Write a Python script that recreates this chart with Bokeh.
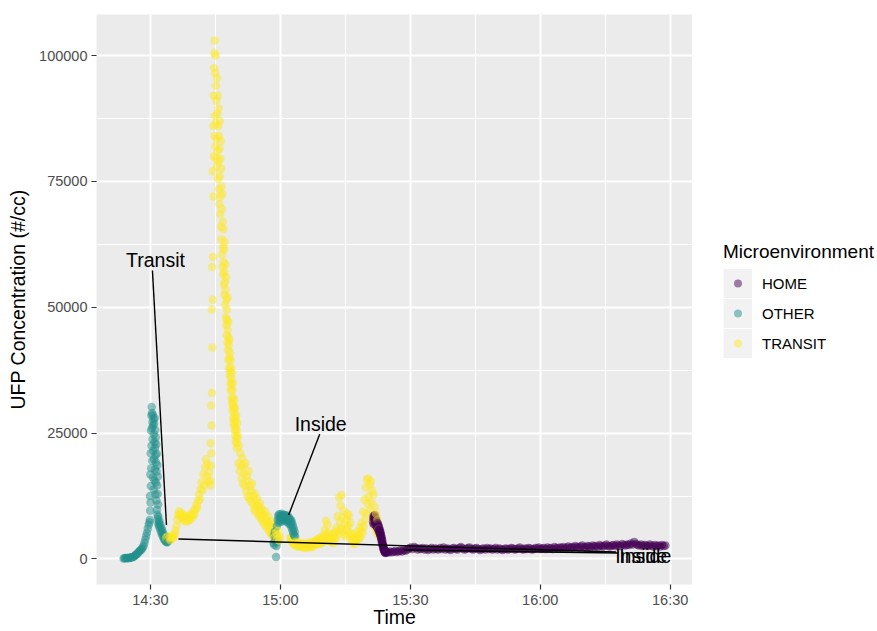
import numpy as np
import pandas as pd
from bokeh.plotting import figure
from bokeh.layouts import row
from bokeh.models import (ColumnDataSource, FixedTicker, Legend, LegendItem,
                          Range1d, CategoricalColorMapper)
from bokeh.core.properties import value
from bokeh.embed import file_html
from bokeh.resources import INLINE

FONT = "Liberation Sans"

# ---------------- data ----------------
CATEGORIES = ["HOME", "OTHER", "TRANSIT"]
COLORS = ["#440154", "#21908C", "#FDE725"]

# Time is in minutes after 14:00; each run is an instrument log with a fixed sampling step.
other_run1_start, other_run1_step = 23.8, 0.2
other_run1 = [80, 150, 200, 130, 180, 220, 160, 250, 300, 280, 350, 420, 500, 650, 800, 950,
              1100, 1300, 1500, 1700, 1800, 2000, 2300, 2600, 3200, 3800, 4500, 5200, 6000,
              6800, 7300]

other_run2_start, other_run2_step = 29.86, 0.04
other_run2 = [7800, 12500, 9600, 16800, 11200, 21000, 14500, 25500, 18000, 28500, 22500,
              30200, 26000, 29000, 19500, 27200, 23800, 28600, 16200, 26500, 21500, 27800,
              13800, 24800, 19800, 26900, 15600, 23200, 28000, 17800, 22100, 25600, 12800,
              20600, 24200, 15200, 19200, 22800, 11600, 17400, 20900, 9800, 14600, 18600,
              8800, 12900, 16400, 7900, 10800, 8400, 6900]

other_run3_start, other_run3_step = 31.9, 0.1
other_run3 = [7200, 6500, 7500, 6000, 6800, 5500, 6200, 5000, 5800, 4600, 5200, 4200, 4800,
              3800, 4400, 3600, 4000, 3400, 3800, 3500, 3300, 3900, 3600, 4200, 3800]

transit_run1_start, transit_run1_step = 33.6, 0.2
transit_run1 = [4200, 3800, 4500, 4000, 4300, 3700, 4400, 4100, 4600, 4300, 4900, 5600, 6500,
                7800, 8800, 9500, 8600, 9200, 8100, 8900, 7600, 8400, 7900, 8600, 7400, 8200,
                7700, 8500, 7800, 9000, 8200, 8800, 9600, 8900, 9900, 10800, 10200, 11500,
                12800, 11800, 13900, 15200, 13600, 16800, 14800, 18200, 19800, 16500, 18800,
                15400, 17200, 14600]

transit_run2_start, transit_run2_step = 43.85, 0.05
transit_run2 = [15500, 23000, 18500, 30500, 21000, 26500, 49500, 33000, 58000, 42000,
                51500, 77000, 60000, 86000, 72000, 92000, 80000, 97500, 84000, 100500,
                103000, 88000, 96500, 82000, 100000, 86500, 94000, 79500, 91000, 83500,
                95500, 78000, 88500, 81000, 92000, 75500, 86000, 79000, 89500, 73500,
                84000, 70500, 81500, 76000, 87000, 68500, 79500, 72000, 83000, 66000,
                77500, 63500, 74000, 69500, 60500, 72500, 58000, 67000, 62000, 56500,
                65500, 59000, 54500, 61500, 57000, 52500, 63000, 55000, 50500, 58500,
                53500, 48000, 56000, 46500, 51500, 44500, 49500, 47500, 43000, 52000,
                45500, 41500, 47000, 39500, 44000, 42500, 38000, 43500, 40000, 36500,
                41000, 37500, 35000, 39500, 33500, 38000, 36000, 32000, 34500, 37000,
                31000, 33500, 29500, 35000, 30500, 28000, 32000, 27000, 30000, 31500,
                26500, 29000, 25500, 28000, 30000, 24500, 27500, 23500, 26000, 28500,
                23000, 25500, 22000, 27000, 24000]

transit_run3_start, transit_run3_step = 50.15, 0.15
transit_run3 = [24500, 19000, 22500, 17500, 21000, 18500, 16000, 20000, 15000, 18500,
                17000, 14500, 19000, 13500, 16500, 12500, 15500, 17500, 12000, 14500,
                11500, 13500, 15000, 11000, 12500, 10000, 13000, 9500, 11500, 10500,
                12000, 9000, 10500, 8500, 11000, 9500, 8000, 10000, 7500, 9000,
                8500, 7000, 9500, 6500, 8000, 7500, 6000, 8500, 5500, 7000,
                6500, 5000, 7500, 4800, 6000, 5500, 4400, 6800, 4200, 5200,
                4600, 3800, 5600, 4000, 3600, 4400]

other_run4_start, other_run4_step = 58.4, 0.1
other_run4 = [3200, 4600, 2800, 5400, 3600, 4200, 400, 2600, 6500, 3400,
              7800, 8600, 7200, 8900, 8100, 7600, 8800, 8300, 7400, 9000,
              8500, 7900, 8700, 8200, 7700, 8800, 8400, 7500, 8600, 8000,
              8700, 7800, 8300, 7300, 8500, 7600, 8100, 6900, 7900, 7400,
              6800, 7700, 6200, 7200, 5600, 6600, 5000, 6000, 4600, 5400, 4500]

transit_run4_start, transit_run4_step = 62.3, 0.15
transit_run4 = [4200, 3600, 4400, 3300, 3900, 3000, 3500, 2800, 3400, 2600,
                3200, 2900, 2500, 3100, 2700, 3300, 2400, 3000, 2600, 2900,
                2300, 2800, 2500, 3100, 2200, 2700, 2900, 2400, 3200, 2600,
                2900, 2300, 3400, 2700, 3000, 2500, 3300, 2800, 3600, 3100,
                3500, 2900, 3800, 3200, 4100, 3400, 3000, 3700, 4400, 3300,
                3900, 3500, 4600, 5800, 4200, 7600, 5000, 6800, 4300, 3600,
                5200, 3900, 3400, 4600, 3700, 4100, 3200, 4800, 3600, 5400,
                4200, 6200, 4800, 8500, 5600, 12200, 7400, 10600, 6000, 12700,
                8200, 5400, 9600, 4800, 6800, 4400, 5900, 7800, 9000, 6500,
                8600, 5200, 7200, 4600, 3800, 5000, 3400, 4300, 3000, 3900,
                3200, 4500, 3600, 5400, 3900, 4800, 4100, 6200, 4400, 5600,
                7200, 5200, 9400, 6400, 11800, 7800, 14200, 9000, 15800, 11000,
                16000, 12500, 14800, 9800, 15400, 11200, 13600, 8400, 12800, 7200,
                10400, 6200, 9000, 5400, 7800, 4800, 6000]

home_run1_start, home_run1_step = 81.4, 0.05
home_run1 = [7400, 8200, 7000, 8600, 7800, 6900, 8300, 7500, 8700, 7100,
             7900, 6800, 8100, 7300, 6600, 7700, 7000, 6400, 7400, 6700,
             6200, 7100, 6500, 5900, 6800, 6100, 5600, 6400, 5800, 5300,
             6000, 5100, 5600, 4800, 5300, 4500, 4900, 4100, 4500, 3700,
             4100, 3300, 3700, 2900, 3200, 2600, 2800, 2200, 2400, 1900,
             2100, 1700, 1800, 1500, 1600, 1300, 1500, 1200, 1400, 1300, 1500]

home_run2_start, home_run2_step = 84.5, 0.4
home_run2 = [1400, 1300, 1500, 1350, 1450, 1600, 1400, 1550, 1700, 1500,
             1800, 1650, 1900, 2100, 2300, 2000, 2400, 2200, 1900, 2100,
             2000, 2200, 1900, 2100, 1800, 2000, 2200, 1900, 2100, 2000,
             1900, 2200, 2000, 2300, 1900, 2100, 2000, 1800, 2100, 2200,
             2000, 1900, 2200, 2400, 2100, 1900, 2000, 2200, 2300, 2000,
             1900, 2100, 2200, 2000, 1800, 2000, 2100, 1900, 2200, 2000,
             2100, 1900, 2000, 2200, 1900, 2100, 2000, 1800, 2000, 2100,
             1900, 2000, 2200, 2100, 1900, 2000, 2100, 2300, 2000, 1900,
             2100, 2000, 2200, 2100, 1900, 2000, 2200, 2100, 2300, 2000,
             2100, 2200, 2000, 2300, 2100, 2200, 2000, 2400, 2200, 2100,
             2300, 2200, 2400, 2100, 2300, 2500, 2200, 2400, 2300, 2600,
             2400, 2300, 2500, 2700, 2400, 2300, 2600, 2500, 2400, 2700,
             2500, 2600, 2400, 2800, 2600, 2500, 2700, 2900, 2600, 2500,
             2700, 2800, 2600, 2900, 2700, 2600, 3000, 2800, 2700, 2900,
             2800, 3100, 2900, 3400, 3000, 2800, 2700, 2900, 2600, 2800,
             2700, 2600, 2900, 2700, 2500, 2800, 2600, 2700, 2500, 2800, 2600, 2700]

runs = [
    ("OTHER", other_run1_start, other_run1_step, other_run1),
    ("OTHER", other_run2_start, other_run2_step, other_run2),
    ("OTHER", other_run3_start, other_run3_step, other_run3),
    ("TRANSIT", transit_run1_start, transit_run1_step, transit_run1),
    ("TRANSIT", transit_run2_start, transit_run2_step, transit_run2),
    ("TRANSIT", transit_run3_start, transit_run3_step, transit_run3),
    ("OTHER", other_run4_start, other_run4_step, other_run4),
    ("TRANSIT", transit_run4_start, transit_run4_step, transit_run4),
    ("HOME", home_run1_start, home_run1_step, home_run1),
    ("HOME", home_run2_start, home_run2_step, home_run2),
]

# axis ticks
TIME_TICKS = [30, 60, 90, 120, 150]
TIME_TICK_LABELS = ["14:30", "15:00", "15:30", "16:00", "16:30"]
TIME_MINOR = [15, 45, 75, 105, 135]
UFP_TICKS = [0, 25000, 50000, 75000, 100000]
UFP_TICK_LABELS = ["0", "25000", "50000", "75000", "100000"]
UFP_MINOR = [12500, 37500, 62500, 87500]

# repelled text labels: text, label position, segment from label to the data point
LABEL_TEXT = ["Transit", "Inside", "Inside", "Inside"]
LABEL_X = [31.16, 69.31, 143.3, 144.25]
LABEL_Y = [59300, 26800, 600, 600]
SEG_X0 = [30.46, 69.08, 137.5, 138.0]
SEG_Y0 = [57300, 24800, 1390, 1190]
SEG_X1 = [33.70, 61.91, 36.47, 88.50]
SEG_Y1 = [6750, 8730, 3970, 1790]

# ---------------- build ----------------
frames = []
for cat, start, step, vals in runs:
    t = start + step * np.arange(len(vals))
    frames.append(pd.DataFrame({"t": t, "ufp": vals, "env": cat}))
df = pd.concat(frames, ignore_index=True).sort_values("t", kind="stable")
src = ColumnDataSource(df)

tmin, tmax = df["t"].min(), df["t"].max()
vmin, vmax = df["ufp"].min(), df["ufp"].max()
tpad = 0.05 * (tmax - tmin)
vpad = 0.05 * (vmax - vmin)

p = figure(width=692, height=631, output_backend="svg", toolbar_location=None,
           x_range=Range1d(tmin - tpad, tmax + tpad),
           y_range=Range1d(vmin - vpad, vmax + vpad),
           min_border_left=96, min_border_right=0, min_border_top=14,
           min_border_bottom=47)
p.background_fill_color = "#EBEBEB"
p.border_fill_color = "white"
p.outline_line_color = None

cmap = CategoricalColorMapper(factors=CATEGORIES, palette=COLORS)
p.scatter(x="t", y="ufp", source=src, size=8.5,
          fill_color={"field": "env", "transform": cmap}, fill_alpha=0.5,
          line_color=None)

# label segments and texts
p.segment(x0=SEG_X0, y0=SEG_Y0, x1=SEG_X1, y1=SEG_Y1, line_color="black", line_width=1.4)
p.text(x=LABEL_X, y=LABEL_Y, text=LABEL_TEXT, text_font=value(FONT),
       text_font_size="19.5px", text_align="center", text_baseline="middle",
       text_color="black")

# axes
for ax, ticks, minor, labels in ((p.xaxis[0], TIME_TICKS, TIME_MINOR, TIME_TICK_LABELS),
                                 (p.yaxis[0], UFP_TICKS, UFP_MINOR, UFP_TICK_LABELS)):
    ax.ticker = FixedTicker(ticks=ticks, minor_ticks=minor)
    ax.major_label_overrides = dict(zip(ticks, labels))
    ax.axis_line_color = None
    ax.major_tick_line_color = "#333333"
    ax.major_tick_line_width = 1.2
    ax.major_tick_out = 5
    ax.major_tick_in = 0
    ax.minor_tick_line_color = None
    ax.major_label_text_font = FONT
    ax.major_label_text_font_size = "14.5px"
    ax.major_label_text_color = "#4D4D4D"
    ax.axis_label_text_font = FONT
    ax.axis_label_text_font_size = "19.5px"
    ax.axis_label_text_font_style = "normal"
    ax.axis_label_text_color = "black"

p.xaxis.axis_label = "Time"
p.xaxis.major_label_standoff = 2
p.xaxis.axis_label_standoff = -5
p.yaxis.axis_label = "UFP Concentration (#/cc)"
p.yaxis.major_label_standoff = 4
p.yaxis.axis_label_standoff = 7

for g in (p.xgrid[0], p.ygrid[0]):
    g.grid_line_color = "white"
    g.grid_line_width = 2
    g.minor_grid_line_color = "white"
    g.minor_grid_line_width = 1

# legend panel (keys drawn with ggplot's grey key background)
lg = figure(width=185, height=631, output_backend="svg", toolbar_location=None,
            x_axis_location=None, y_axis_location=None,
            x_range=Range1d(0, 1), y_range=Range1d(0, 1), min_border=0)
lg.outline_line_color = None
lg.background_fill_color = "white"
lg.border_fill_color = "white"
lg.xgrid.visible = False
lg.ygrid.visible = False

# legend-only renderers: one point placed off the visible range so nothing shows in the panel
offscreen = ColumnDataSource(dict(x=[-10], y=[-10]))
key_bg = lg.line(x="x", y="y", source=offscreen, line_color="#F2F2F2", line_width=29)
items = []
for cat, col in zip(CATEGORIES, COLORS):
    dot = lg.scatter(x="x", y="y", source=offscreen, size=8, fill_color=col, fill_alpha=0.5,
                     line_color="#F2F2F2", line_width=3.6)
    items.append(LegendItem(label=cat, renderers=[key_bg, dot]))

legend = Legend(items=items, title="Microenvironment", location=(31, 226),
                glyph_width=29, glyph_height=30, spacing=0, label_standoff=10,
                padding=0, margin=0, border_line_color=None,
                background_fill_alpha=0,
                title_text_font=FONT, title_text_font_size="19px",
                title_text_font_style="normal", title_text_color="black",
                title_standoff=5,
                label_text_font=FONT, label_text_font_size="15px",
                label_text_color="black")
lg.add_layout(legend)

layout = row(p, lg, spacing=0)
open("out.html", "w").write(file_html(layout, INLINE))
